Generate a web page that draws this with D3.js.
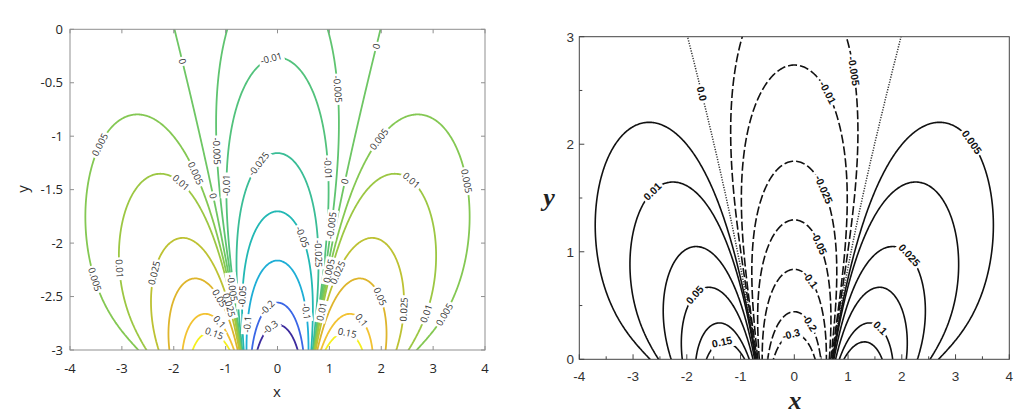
<!DOCTYPE html>
<html><head><meta charset="utf-8">
<script src="https://cdn.jsdelivr.net/npm/d3@7"></script>
<style>body{margin:0;background:#fff}svg{display:block}</style>
</head><body>
<svg id="chart" width="1024" height="419"></svg>
<script>
// ---------------- data ----------------
const levels     = [-0.3, -0.2, -0.1, -0.05, -0.025, -0.01, -0.005, 0, 0.005, 0.01, 0.025, 0.05, 0.1, 0.15];
const levelText  = ["-0.3","-0.2","-0.1","-0.05","-0.025","-0.01","-0.005","0","0.005","0.01","0.025","0.05","0.1","0.15"];
const levelColors = ["#3d2b9e","#3a66e6","#1eaed6","#22b8b4","#3abd96","#52c27c","#5fc470",
                     "#6ec664","#84c853","#9cc743","#bdc233","#deb52c","#f2c232","#f5f01e"];
const xTicks       = [-4, -3, -2, -1, 0, 1, 2, 3, 4];
const yTicksLeft   = [-3, -2.5, -2, -1.5, -1, -0.5, 0];
const yTicksRight  = [0, 1, 2, 3];
const xMinorRight  = [-3.5, -2.5, -1.5, -0.5, 0.5, 1.5, 2.5, 3.5];
const yMinorRight  = [0.5, 1.5, 2.5];
// boundary profile of the field along the source line (read off where contours meet the axis):
// zero crossing at |x| = 0.707, value -0.5 at x = 0, Gaussian decay width 1
const zeroCrossing = 0.7071;
const centreValue  = -0.5;
const decayWidth   = 1.0;
// label anchor spots [level, x, y] (left panel: y in [-3,0]; right panel: y in [0,3])
const leftLabels = [
  [0,-1.85,-0.30],[0.005,-3.42,-1.08],[0.005,-1.59,-1.35],[-0.005,-1.18,-1.14],[0.01,-1.88,-1.44],
  [0,-1.24,-1.57],[-0.01,-0.95,-1.46],[-0.025,-0.34,-1.27],[-0.01,-0.11,-0.30],[-0.005,1.14,-0.57],
  [0,1.90,-0.15],[0.005,1.97,-1.04],[0.005,3.61,-1.43],[-0.01,0.96,-1.30],[0,1.30,-1.43],[0.01,2.55,-1.43],
  [0.005,-3.52,-2.33],[0.01,-3.07,-2.25],[0.025,-2.35,-2.28],[0.05,-1.17,-2.53],[0.1,-1.15,-2.75],
  [0.15,-1.24,-2.88],[-0.1,-0.59,-2.75],[-0.05,-0.66,-2.50],[-0.05,0.43,-1.96],[-0.025,0.79,-2.10],
  [-0.005,1.04,-1.83],[0.005,1.05,-2.27],[0.025,1.17,-2.27],[0.01,0.82,-2.63],[-0.1,0.53,-2.64],
  [-0.2,-0.24,-2.59],[-0.3,-0.11,-2.81],[0.05,1.94,-2.50],[0.025,2.42,-2.61],[0.01,2.87,-2.66],
  [0.005,3.23,-2.67],[0.1,1.59,-2.74],[0.15,1.33,-2.88],[0.025,-0.92,-2.58],[-0.005,-0.80,-2.42]
];
const rightLabels = [
  [0,-1.72,2.47],[0.01,-2.59,1.54],[-0.005,1.10,2.68],[-0.01,0.63,2.49],[0.005,3.30,2.01],
  [-0.025,0.51,1.57],[0.05,-1.79,0.57],[0.15,-1.32,0.10],[-0.05,0.42,1.06],[0.025,2.15,0.97],
  [-0.1,0.29,0.74],[0.1,1.59,0.29],[-0.2,0.26,0.33],[-0.3,-0.05,0.21]
];

// ---------------- field (harmonic extension of the boundary profile) ----------------
const gx0 = -4.1, gdx = 0.02, nx = 411;
const gy0 = -0.06, gdy = 0.02, ny = 157;
function boundary(x) {
  const a2 = zeroCrossing * zeroCrossing;
  return (-centreValue / a2) * (x * x - a2) * Math.exp(-x * x / (decayWidth * decayWidth));
}
// fine sampling of the boundary, step h (half the grid step), reaching R beyond the grid
const h = gdx / 2, M = 1020, R = (M + 0.5) * h;
const nFine = 2 * (nx - 1) + 2 * M + 1;
const gF = new Float64Array(nFine);
for (let k = 0; k < nFine; k++) gF[k] = boundary(gx0 - M * h + k * h);
const values = new Float64Array(nx * ny);
const Kk = new Float64Array(M + 1);
for (let j = 0; j < ny; j++) {
  const y = gy0 + j * gdy;
  if (y <= 1e-9) {
    for (let i = 0; i < nx; i++) values[j * nx + i] = gF[M + 2 * i];
    continue;
  }
  for (let k = 1; k <= M; k++) Kk[k] = h * y / (Math.PI * (k * k * h * h + y * y));
  const w0 = (2 / Math.PI) * Math.atan(R / y);
  for (let i = 0; i < nx; i++) {
    const c = M + 2 * i, g0 = gF[c];
    let s = g0 * w0;
    for (let k = 1; k <= M; k++) s += (gF[c + k] + gF[c - k] - 2 * g0) * Kk[k];
    values[j * nx + i] = s;
  }
}
const contourSets = d3.contours().size([nx, ny]).thresholds(levels)(values);

// ---------------- drawing ----------------
const svg = d3.select("#chart");
const defs = svg.append("defs");

function drawPanel(cfg) {
  const xs = d3.scaleLinear().domain([-4, 4]).range([cfg.left, cfg.right]);
  const ys = d3.scaleLinear().domain(cfg.yDomain).range([cfg.bottom, cfg.top]);
  const toPx = (cx, cy) => [xs(gx0 + (cx - 0.5) * gdx), ys(gy0 + (cy - 0.5) * gdy + cfg.yShift)];
  const path = d3.geoPath(d3.geoTransform({point(x, y) { const p = toPx(x, y); this.stream.point(p[0], p[1]); }}));

  defs.append("clipPath").attr("id", cfg.id + "clip").append("rect")
    .attr("x", cfg.left).attr("y", cfg.top).attr("width", cfg.right - cfg.left).attr("height", cfg.bottom - cfg.top);
  const mask = defs.append("mask").attr("id", cfg.id + "mask").attr("maskUnits", "userSpaceOnUse")
    .attr("x", 0).attr("y", 0).attr("width", 1024).attr("height", 419);
  mask.append("rect").attr("x", 0).attr("y", 0).attr("width", 1024).attr("height", 419).attr("fill", "white");

  const g = svg.append("g").attr("clip-path", `url(#${cfg.id}clip)`);
  const lines = g.append("g").attr("mask", `url(#${cfg.id}mask)`);
  contourSets.forEach((c, i) => {
    const p = lines.append("path").attr("d", path(c)).attr("fill", "none")
      .attr("stroke-linejoin", "round").attr("stroke-linecap", "butt");
    cfg.lineStyle(p, levels[i], i);
  });

  // frame & ticks
  const ax = svg.append("g");
  ax.append("rect").attr("x", cfg.left).attr("y", cfg.top).attr("width", cfg.right - cfg.left)
    .attr("height", cfg.bottom - cfg.top).attr("fill", "none").attr("stroke", cfg.axisColor).attr("stroke-width", 1);
  cfg.xTicks.forEach(t => {
    ax.append("line").attr("x1", xs(t)).attr("x2", xs(t)).attr("y1", cfg.bottom).attr("y2", cfg.bottom - cfg.tickLen).attr("stroke", cfg.axisColor);
    if (cfg.allSides) ax.append("line").attr("x1", xs(t)).attr("x2", xs(t)).attr("y1", cfg.top).attr("y2", cfg.top + cfg.tickLen).attr("stroke", cfg.axisColor);
    ax.append("text").attr("x", xs(t)).attr("y", cfg.xLabelY).attr("text-anchor", "middle")
      .attr("font-family", cfg.font).attr("font-size", cfg.tickFont).attr("fill", cfg.textColor).text(t);
  });
  cfg.yTicks.forEach(t => {
    ax.append("line").attr("x1", cfg.left).attr("x2", cfg.left + cfg.tickLen).attr("y1", ys(t)).attr("y2", ys(t)).attr("stroke", cfg.axisColor);
    if (cfg.allSides) ax.append("line").attr("x1", cfg.right).attr("x2", cfg.right - cfg.tickLen).attr("y1", ys(t)).attr("y2", ys(t)).attr("stroke", cfg.axisColor);
    ax.append("text").attr("x", cfg.yLabelX).attr("y", ys(t)).attr("dy", "0.36em").attr("text-anchor", "end")
      .attr("font-family", cfg.font).attr("font-size", cfg.tickFont).attr("fill", cfg.textColor).text(t);
  });
  (cfg.xMinor || []).forEach(t => ax.append("line").attr("x1", xs(t)).attr("x2", xs(t)).attr("y1", cfg.bottom).attr("y2", cfg.bottom - cfg.minorLen).attr("stroke", cfg.axisColor));
  (cfg.yMinor || []).forEach(t => ax.append("line").attr("x1", cfg.left).attr("x2", cfg.left + cfg.minorLen).attr("y1", ys(t)).attr("y2", ys(t)).attr("stroke", cfg.axisColor));

  // inline contour labels
  const lab = svg.append("g");
  cfg.labels.forEach(spec => {
    const li = levels.indexOf(spec[0]);
    const target = [xs(spec[1]), ys(spec[2])];
    let best = null, bd = Infinity;
    contourSets[li].coordinates.forEach(poly => poly.forEach(ring => {
      const pts = ring.map(p => toPx(p[0], p[1]));
      pts.forEach((p, k) => {
        if (p[0] < cfg.left + 3 || p[0] > cfg.right - 3 || p[1] < cfg.top + 3 || p[1] > cfg.bottom - 3) return;
        const d = (p[0] - target[0]) ** 2 + (p[1] - target[1]) ** 2;
        if (d < bd) { bd = d; best = {pts, k}; }
      });
    }));
    if (!best) return;
    const n = best.pts.length - 1;
    const a = best.pts[((best.k - 4) % n + n) % n], b = best.pts[(best.k + 4) % n], c = best.pts[best.k];
    let ang = Math.atan2(b[1] - a[1], b[0] - a[0]) * 180 / Math.PI;
    if (ang > 90) ang -= 180; if (ang < -90) ang += 180;
    const tr = `translate(${c[0]},${c[1]}) rotate(${ang})`;
    const txt = lab.append("text").attr("transform", tr).attr("text-anchor", "middle").attr("dy", "0.35em")
      .attr("font-family", cfg.labelFontFamily).attr("font-size", cfg.labelFont).attr("font-weight", cfg.labelWeight)
      .attr("fill", cfg.labelColor).text(cfg.labelText(li));
    const w = txt.node().getComputedTextLength() + 4;
    mask.append("rect").attr("transform", tr).attr("x", -w / 2).attr("y", -cfg.labelFont * 0.6)
      .attr("width", w).attr("height", cfg.labelFont * 1.2).attr("fill", "black");
  });
}

// left panel (coloured)
drawPanel({
  id: "L", left: 70, right: 485, top: 29.3, bottom: 350, yDomain: [-3, 0], yShift: -3,
  lineStyle: (p, v, i) => p.attr("stroke", levelColors[i]).attr("stroke-width", 1.8),
  axisColor: "#8f8f8f", textColor: "#262626", font: "'Open Sans', 'Noto Sans', sans-serif", tickFont: 13,
  xTicks: xTicks, yTicks: yTicksLeft, tickLen: 4, allSides: true, xLabelY: 373, yLabelX: 63,
  labels: leftLabels, labelFont: 9.5, labelWeight: "normal", labelColor: "#333",
  labelFontFamily: "'Open Sans', 'Noto Sans', sans-serif", labelText: i => levelText[i]
});
svg.append("text").attr("x", 277).attr("y", 397).attr("text-anchor", "middle")
  .attr("font-family", "'Open Sans', sans-serif").attr("font-size", 15).attr("fill", "#262626").text("x");
svg.append("text").attr("transform", "translate(28,189) rotate(-90)").attr("text-anchor", "middle")
  .attr("font-family", "'Open Sans', sans-serif").attr("font-size", 15).attr("fill", "#262626").text("y");

// right panel (black & white)
drawPanel({
  id: "R", left: 579.3, right: 1009.3, top: 36.7, bottom: 359.3, yDomain: [0, 3], yShift: 0,
  lineStyle: (p, v) => {
    p.attr("stroke", v === 0 ? "#333" : "#111").attr("stroke-width", v === 0 ? 1.5 : 1.6);
    if (v < 0) p.attr("stroke-dasharray", "9,3");
    if (v === 0) p.attr("stroke-dasharray", "1.2,1.4");
  },
  axisColor: "#444", textColor: "#333", font: "'Liberation Sans', Arial, sans-serif", tickFont: 13.5,
  xTicks: xTicks, yTicks: yTicksRight, tickLen: 5, minorLen: 3, xMinor: xMinorRight, yMinor: yMinorRight,
  allSides: false, xLabelY: 381, yLabelX: 574,
  labels: rightLabels, labelFont: 10.5, labelWeight: "bold", labelColor: "#111",
  labelFontFamily: "'Liberation Sans', Arial, sans-serif", labelText: i => levels[i] === 0 ? "0.0" : levelText[i]
});
svg.append("text").attr("x", 795).attr("y", 409).attr("text-anchor", "middle")
  .attr("font-family", "'Liberation Serif', 'DejaVu Serif', serif").attr("font-style", "italic").attr("font-weight", "bold")
  .attr("font-size", 26).attr("fill", "#222").text("x");
svg.append("text").attr("x", 549).attr("y", 206).attr("text-anchor", "middle")
  .attr("font-family", "'Liberation Serif', 'DejaVu Serif', serif").attr("font-style", "italic").attr("font-weight", "bold")
  .attr("font-size", 26).attr("fill", "#222").text("y");
</script>
</body></html>
